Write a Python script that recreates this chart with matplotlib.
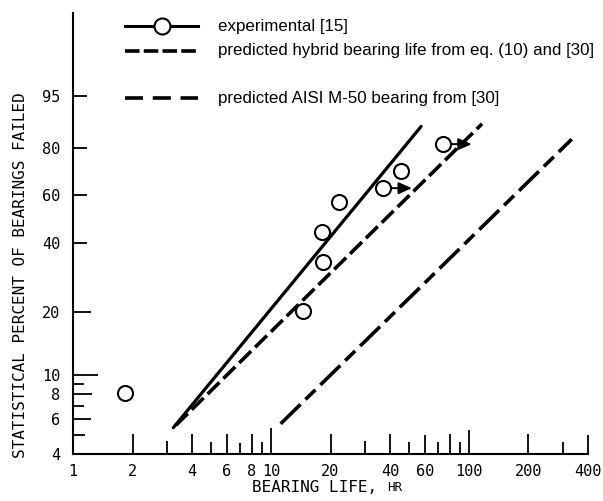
import numpy as np
import matplotlib
matplotlib.use('Agg')
import matplotlib.pyplot as plt

plt.rcParams['lines.scale_dashes'] = False

# experimental bearing lives [15] (hr) and percent failed
expLife = [1.83, 14.5, 18.4, 18.2, 22.0, 37.0, 45.3, 73.8]
expPct = [8.1, 20.4, 33.7, 44.3, 56.7, 62.9, 70.5, 81.4]
# suspended tests: arrow from the point out to this life
suspLife = [37.0, 73.8]
suspPct = [62.9, 81.4]
suspTip = [51.6, 103.4]

# fitted / predicted lines (end points)
fitLife = [3.21, 57.4]
fitPct = [5.44, 87.5]
hybridLife = [3.31, 116.6]
hybridPct = [5.6, 88.3]
m50Life = [11.2, 331.0]
m50Pct = [5.7, 83.2]

xTicks = [1, 2, 3, 4, 5, 6, 7, 8, 9, 10, 20, 30, 40, 50, 60, 70, 80, 90, 100, 200, 300, 400]
xTickLabels = ['1', '2', '', '4', '', '6', '', '8', '', '10', '20', '', '40', '', '60', '', '', '', '100', '200', '', '400']
xTickLen = [0, 20, 13, 20, 12, 20, 11, 20, 12, 26, 20, 13, 20, 12, 19, 12, 20, 12, 24, 20, 12, 19]
yTicks = [4, 5, 6, 7, 8, 9, 10, 20, 40, 60, 80, 95]
yTickLabels = ['4', '', '6', '', '8', '', '10', '20', '40', '60', '80', '95']
yTickLen = [0, 12, 18, 11, 19, 11, 25, 18, 14, 14, 14, 14]

legendLabels = ['experimental [15]',
                'predicted hybrid bearing life from eq. (10) and [30]',
                'predicted AISI M-50 bearing from [30]']
legendY = [0.9705, 0.914, 0.807]

MONO = 'DejaVu Sans Mono'
SANS = 'Liberation Sans'
hybridDash = (0, (12, 4))
m50Dash = (0, (20, 5, 10, 5))


def weibull(p):
    p = np.clip(np.asarray(p, dtype=float), 1e-6, 99.99999)
    return np.log(-np.log(1.0 - p / 100.0))


def weibullInv(w):
    return 100.0 * (1.0 - np.exp(-np.exp(w)))


def px(v):
    # pixel length -> points at dpi 100
    return v * 0.72


fig = plt.figure(figsize=(6.03, 5.01), dpi=100)
ax = fig.add_axes([73 / 603, 47 / 501, 515 / 603, 441 / 501])
ax.set_xscale('log')
ax.set_yscale('function', functions=(weibull, weibullInv))
ax.set_xlim(1, 400)
ax.set_ylim(4, 99.97)

ax.plot(fitLife, fitPct, color='k', lw=2.3, solid_capstyle='round')
ax.plot(hybridLife, hybridPct, color='k', lw=2.6, linestyle=hybridDash)
ax.plot(m50Life, m50Pct, color='k', lw=2.6, linestyle=m50Dash)

for l, p, t in zip(suspLife, suspPct, suspTip):
    ax.annotate('', xy=(t, p), xytext=(l, p), zorder=2,
                arrowprops=dict(arrowstyle='-|>,head_length=0.5,head_width=0.22',
                                color='k', lw=1.4, mutation_scale=16,
                                shrinkA=0, shrinkB=0))

ax.plot(expLife, expPct, linestyle='none', marker='o', ms=px(15), mfc='white',
        mec='k', mew=1.5, zorder=3)

# legend drawn by hand (uneven spacing in the original)
x0, x1, xt = 0.101, 0.243, 0.2816
ax.plot([x0, x1], [legendY[0]] * 2, transform=ax.transAxes, color='k', lw=2.2)
ax.plot([(x0 + x1) / 2], [legendY[0]], transform=ax.transAxes, marker='o', ms=px(16),
        mfc='white', mec='k', mew=1.5)
ax.plot([x0, x1], [legendY[1]] * 2, transform=ax.transAxes, color='k', lw=2.6,
        linestyle=(0, (10.5, 3)))
ax.plot([x0, x1], [legendY[2]] * 2, transform=ax.transAxes, color='k', lw=2.6,
        linestyle=(0, (13, 7)))
for lab, y in zip(legendLabels, legendY):
    ax.text(xt, y, lab, transform=ax.transAxes, ha='left', va='center',
            fontsize=12.2, family=SANS)

ax.spines['top'].set_visible(False)
ax.spines['right'].set_visible(False)
ax.spines['left'].set_linewidth(1.5)
ax.spines['bottom'].set_linewidth(1.5)

ax.set_xticks(xTicks)
ax.set_xticklabels(xTickLabels, family=MONO, fontsize=11)
ax.xaxis.set_minor_locator(matplotlib.ticker.NullLocator())
ax.set_yticks(yTicks)
ax.set_yticklabels(yTickLabels, family=MONO, fontsize=11)
ax.yaxis.set_minor_locator(matplotlib.ticker.NullLocator())
ax.tick_params(axis='x', direction='in', width=1.3, pad=7)
ax.tick_params(axis='y', direction='in', width=1.3, pad=9)
for tick, L in zip(ax.xaxis.get_major_ticks(), xTickLen):
    tick.tick1line.set_markersize(px(L))
for tick, L in zip(ax.yaxis.get_major_ticks(), yTickLen):
    tick.tick1line.set_markersize(px(L))

ax.text(-0.1029, 0.406, 'STATISTICAL PERCENT OF BEARINGS FAILED', transform=ax.transAxes,
        rotation=90, ha='center', va='center', family=MONO, fontsize=11.5)
ax.text(0.3476, -0.077, 'BEARING LIFE,', transform=ax.transAxes, ha='left', va='center',
        family=MONO, fontsize=11.5)
ax.text(0.6097, -0.077, 'HR', transform=ax.transAxes, ha='left', va='center',
        family=MONO, fontsize=9)

fig.savefig('out.png', dpi=100)
